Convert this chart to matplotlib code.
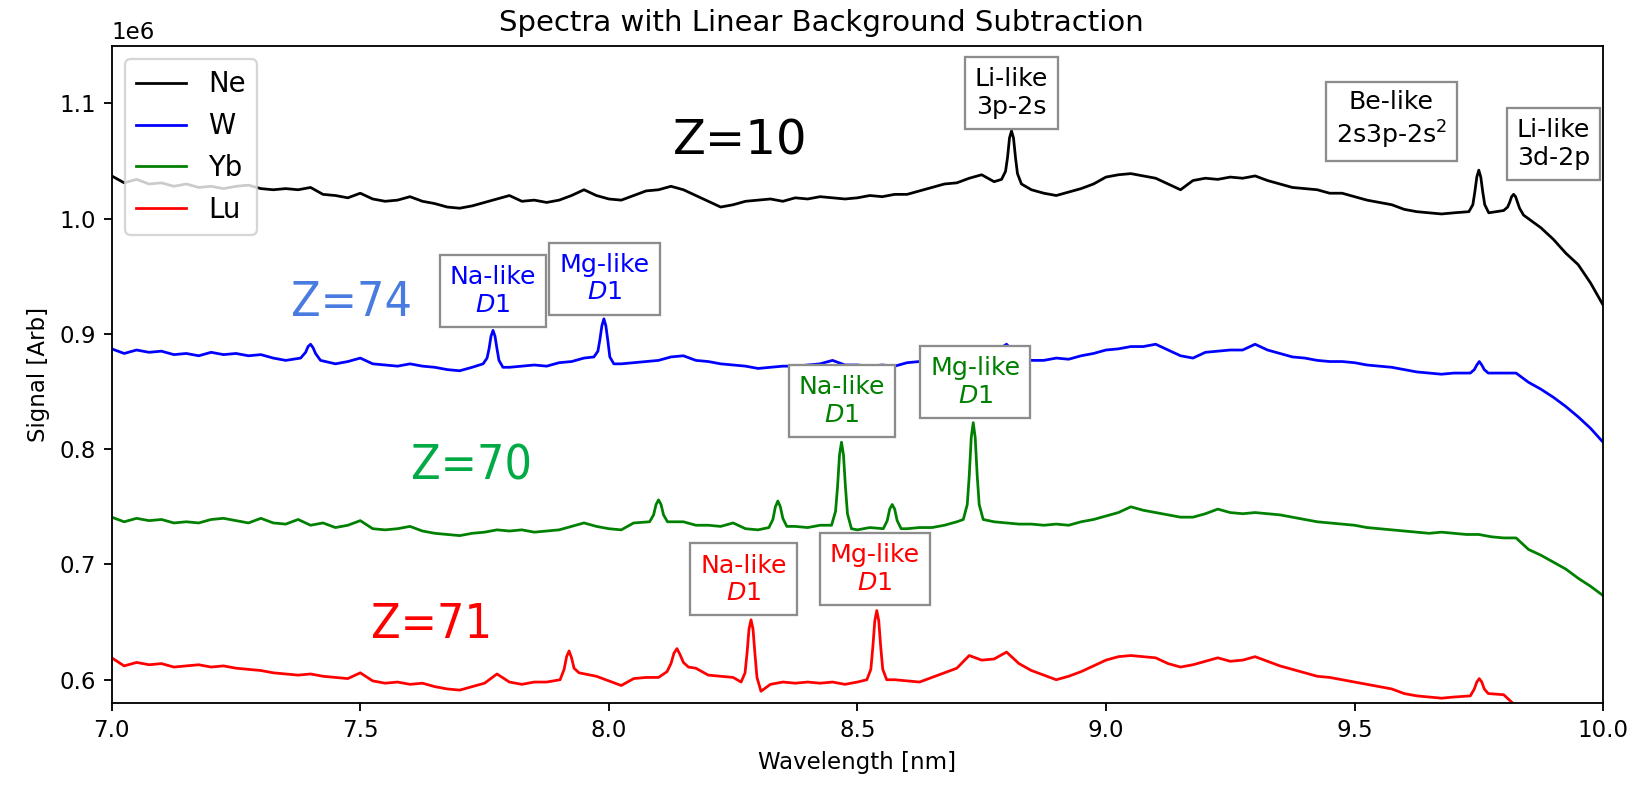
import numpy as np
from matplotlib import pyplot as plt

# wavelength grid of the background samples [nm]
wl = np.arange(121) * 0.025 + 7.0

# signal in units of 1e6
ne_base = [1.037, 1.031, 1.034, 1.030, 1.031, 1.028, 1.030, 1.027, 1.028, 1.026,
           1.028, 1.029, 1.026, 1.025, 1.026, 1.025, 1.027, 1.021, 1.020, 1.018,
           1.022, 1.017, 1.015, 1.016, 1.019, 1.015, 1.013, 1.010, 1.009, 1.011,
           1.014, 1.017, 1.020, 1.015, 1.016, 1.014, 1.016, 1.020, 1.025, 1.020,
           1.017, 1.016, 1.020, 1.024, 1.025, 1.028, 1.025, 1.020, 1.015, 1.010,
           1.012, 1.015, 1.016, 1.017, 1.015, 1.018, 1.017, 1.019, 1.018, 1.017,
           1.018, 1.020, 1.019, 1.021, 1.021, 1.024, 1.027, 1.030, 1.031, 1.035,
           1.038, 1.032, 1.034, 1.030, 1.025, 1.022, 1.020, 1.023, 1.026, 1.030,
           1.036, 1.038, 1.039, 1.037, 1.035, 1.030, 1.025, 1.033, 1.035, 1.034,
           1.036, 1.035, 1.037, 1.033, 1.030, 1.027, 1.026, 1.025, 1.022, 1.022,
           1.019, 1.016, 1.014, 1.012, 1.008, 1.006, 1.005, 1.004, 1.005, 1.006,
           1.007, 1.005, 1.008, 1.006, 1.003, 0.992, 0.982, 0.970, 0.960, 0.944,
           0.925]
ne_peak_x = [8.790, 8.798, 8.802, 8.806, 8.810, 8.814, 8.818, 8.822, 8.830,
             9.730, 9.738, 9.742, 9.746, 9.750, 9.754, 9.758, 9.762, 9.770,
             9.800, 9.808, 9.812, 9.816, 9.820, 9.824, 9.828, 9.832, 9.840]
ne_peak_y = [1.034, 1.041, 1.053, 1.070, 1.076, 1.070, 1.053, 1.039, 1.030,
             1.006, 1.012, 1.023, 1.036, 1.042, 1.036, 1.023, 1.012, 1.005,
             1.007, 1.010, 1.014, 1.019, 1.021, 1.019, 1.014, 1.009, 1.003]

w_base = [0.887, 0.883, 0.886, 0.884, 0.885, 0.882, 0.883, 0.881, 0.884, 0.882,
          0.883, 0.881, 0.882, 0.879, 0.877, 0.880, 0.885, 0.877, 0.874, 0.876,
          0.879, 0.874, 0.873, 0.872, 0.874, 0.872, 0.871, 0.869, 0.868, 0.871,
          0.874, 0.875, 0.871, 0.872, 0.873, 0.872, 0.875, 0.876, 0.879, 0.880,
          0.878, 0.874, 0.875, 0.876, 0.877, 0.880, 0.881, 0.877, 0.876, 0.874,
          0.873, 0.872, 0.870, 0.871, 0.872, 0.872, 0.873, 0.874, 0.877, 0.873,
          0.873, 0.872, 0.873, 0.872, 0.875, 0.876, 0.878, 0.879, 0.880, 0.882,
          0.883, 0.884, 0.891, 0.880, 0.877, 0.877, 0.879, 0.878, 0.881, 0.883,
          0.886, 0.887, 0.889, 0.889, 0.891, 0.886, 0.881, 0.879, 0.884, 0.885,
          0.886, 0.886, 0.891, 0.886, 0.883, 0.880, 0.879, 0.877, 0.876, 0.876,
          0.875, 0.873, 0.872, 0.871, 0.869, 0.867, 0.866, 0.865, 0.866, 0.866,
          0.870, 0.866, 0.866, 0.866, 0.858, 0.852, 0.845, 0.837, 0.828, 0.818,
          0.806]
w_peak_x = [7.380, 7.390, 7.395, 7.400, 7.405, 7.410, 7.420,
            7.747, 7.755, 7.759, 7.763, 7.767, 7.771, 7.775, 7.779, 7.787,
            7.970, 7.978, 7.982, 7.986, 7.990, 7.994, 7.998, 8.002, 8.010,
            9.733, 9.741, 9.746, 9.751, 9.756, 9.761, 9.769]
w_peak_y = [0.879, 0.884, 0.889, 0.891, 0.888, 0.883, 0.877,
            0.874, 0.879, 0.887, 0.898, 0.903, 0.898, 0.887, 0.877, 0.871,
            0.880, 0.885, 0.895, 0.907, 0.913, 0.907, 0.894, 0.880, 0.874,
            0.866, 0.869, 0.873, 0.876, 0.873, 0.869, 0.866]

yb_base = [0.741, 0.737, 0.740, 0.738, 0.739, 0.736, 0.737, 0.736, 0.739, 0.740,
           0.738, 0.736, 0.740, 0.736, 0.735, 0.739, 0.734, 0.736, 0.732, 0.734,
           0.738, 0.731, 0.730, 0.731, 0.733, 0.729, 0.727, 0.726, 0.725, 0.727,
           0.728, 0.730, 0.729, 0.730, 0.728, 0.729, 0.730, 0.733, 0.736, 0.733,
           0.731, 0.730, 0.736, 0.737, 0.738, 0.738, 0.737, 0.734, 0.734, 0.733,
           0.736, 0.731, 0.730, 0.733, 0.733, 0.733, 0.732, 0.734, 0.734, 0.733,
           0.730, 0.732, 0.731, 0.731, 0.731, 0.732, 0.732, 0.734, 0.737, 0.739,
           0.739, 0.737, 0.736, 0.735, 0.735, 0.734, 0.735, 0.734, 0.737, 0.739,
           0.742, 0.745, 0.750, 0.747, 0.745, 0.743, 0.741, 0.741, 0.744, 0.748,
           0.745, 0.744, 0.745, 0.744, 0.743, 0.741, 0.739, 0.737, 0.736, 0.735,
           0.734, 0.732, 0.731, 0.730, 0.729, 0.728, 0.727, 0.728, 0.727, 0.726,
           0.726, 0.724, 0.723, 0.723, 0.713, 0.708, 0.702, 0.696, 0.688, 0.681,
           0.673]
yb_peak_x = [8.082, 8.090, 8.095, 8.100, 8.105, 8.110, 8.118,
             8.322, 8.330, 8.335, 8.340, 8.345, 8.350, 8.358,
             8.448, 8.456, 8.460, 8.464, 8.468, 8.472, 8.476, 8.480, 8.488,
             8.552, 8.560, 8.565, 8.570, 8.575, 8.580, 8.588,
             8.713, 8.721, 8.725, 8.729, 8.733, 8.737, 8.741, 8.745, 8.753]
yb_peak_y = [0.737, 0.743, 0.752, 0.756, 0.752, 0.743, 0.737,
             0.732, 0.739, 0.750, 0.755, 0.750, 0.740, 0.733,
             0.734, 0.746, 0.767, 0.795, 0.806, 0.795, 0.767, 0.744, 0.731,
             0.731, 0.738, 0.748, 0.752, 0.748, 0.738, 0.731,
             0.739, 0.752, 0.777, 0.810, 0.823, 0.810, 0.777, 0.752, 0.739]

# Lu stops at 9.825 nm
lu_base = [0.619, 0.612, 0.615, 0.613, 0.614, 0.611, 0.612, 0.613, 0.611, 0.612,
           0.610, 0.609, 0.608, 0.606, 0.605, 0.604, 0.605, 0.603, 0.602, 0.601,
           0.606, 0.599, 0.597, 0.598, 0.596, 0.597, 0.594, 0.592, 0.591, 0.594,
           0.597, 0.605, 0.598, 0.596, 0.598, 0.598, 0.600, 0.604, 0.606, 0.603,
           0.599, 0.595, 0.601, 0.602, 0.602, 0.607, 0.612, 0.610, 0.604, 0.603,
           0.602, 0.599, 0.596, 0.596, 0.598, 0.597, 0.598, 0.597, 0.598, 0.596,
           0.598, 0.600, 0.601, 0.600, 0.599, 0.598, 0.602, 0.606, 0.610, 0.621,
           0.617, 0.618, 0.624, 0.614, 0.608, 0.604, 0.600, 0.603, 0.607, 0.612,
           0.617, 0.620, 0.621, 0.620, 0.619, 0.614, 0.611, 0.613, 0.616, 0.619,
           0.616, 0.617, 0.620, 0.616, 0.612, 0.609, 0.606, 0.603, 0.602, 0.600,
           0.598, 0.596, 0.594, 0.592, 0.588, 0.586, 0.585, 0.584, 0.585, 0.586,
           0.588, 0.588, 0.587, 0.577]
lu_peak_x = [7.902, 7.910, 7.915, 7.920, 7.925, 7.930, 7.940,
             8.117, 8.125, 8.131, 8.137, 8.143, 8.150, 8.160,
             8.266, 8.274, 8.278, 8.282, 8.286, 8.290, 8.294, 8.298, 8.306,
             8.519, 8.527, 8.531, 8.535, 8.539, 8.543, 8.547, 8.551, 8.559,
             9.733, 9.741, 9.746, 9.751, 9.756, 9.761, 9.769]
lu_peak_y = [0.600, 0.609, 0.620, 0.625, 0.619, 0.610, 0.606,
             0.607, 0.614, 0.623, 0.627, 0.622, 0.615, 0.611,
             0.598, 0.606, 0.623, 0.644, 0.652, 0.644, 0.622, 0.602, 0.590,
             0.600, 0.609, 0.628, 0.651, 0.660, 0.651, 0.628, 0.609, 0.600,
             0.586, 0.592, 0.598, 0.601, 0.598, 0.592, 0.588]


def merge(base, px, py):
    bx = wl[:len(base)]
    by = np.array(base)
    px = np.array(px)
    keep = np.min(np.abs(bx[:, None] - px[None, :]), axis=1) > 0.012
    x = np.concatenate([bx[keep], px])
    y = np.concatenate([by[keep], py])
    order = np.argsort(x)
    return x[order], y[order] * 1e6


fig = plt.figure(figsize=(1643 / 165, 787 / 165), dpi=165)
ax = fig.add_axes([0.068, 0.107, 0.9077, 0.835])

ax.plot(*merge(ne_base, ne_peak_x, ne_peak_y), color='black', lw=1.2, label='Ne')
ax.plot(*merge(w_base, w_peak_x, w_peak_y), color='blue', lw=1.2, label='W')
ax.plot(*merge(yb_base, yb_peak_x, yb_peak_y), color='green', lw=1.2, label='Yb')
ax.plot(*merge(lu_base, lu_peak_x, lu_peak_y), color='red', lw=1.2, label='Lu')

ax.set_xlim(7, 10)
ax.set_ylim(0.58e6, 1.15e6)
fig.suptitle('Spectra with Linear Background Subtraction', fontsize=12.7,
             x=0.5, y=0.971, va='center')
ax.set_xlabel('Wavelength [nm]')
ax.set_ylabel('Signal [Arb]')
ax.legend(loc='upper left', fontsize=12, handlelength=1.8)

ax.text(8.265, 1.067e6, 'Z=10', color='black', fontsize=21, ha='center', va='center')
zfont = dict(fontsize=21, fontstretch='condensed', ha='center', va='center')
ax.text(7.483, 0.927e6, 'Z=74', color='#4a7be0', **zfont)
ax.text(7.723, 0.785e6, 'Z=70', color='#00aa44', **zfont)
ax.text(7.643, 0.648e6, 'Z=71', color='red', **zfont)

box = dict(boxstyle='square,pad=0.4', facecolor='white', edgecolor='0.55')
labels = [
    (8.810, 1.109, 'Li-like\n3p-2s', 'black'),
    (9.574, 1.085, 'Be-like\n2s3p-2s$^2$', 'black'),
    (9.900, 1.065, 'Li-like\n3d-2p', 'black'),
    (7.767, 0.937, 'Na-like\n$D1$', 'blue'),
    (7.991, 0.948, 'Mg-like\n$D1$', 'blue'),
    (8.469, 0.842, 'Na-like\n$D1$', 'green'),
    (8.737, 0.858, 'Mg-like\n$D1$', 'green'),
    (8.271, 0.687, 'Na-like\n$D1$', 'red'),
    (8.535, 0.696, 'Mg-like\n$D1$', 'red'),
]
for x, y, s, c in labels:
    ax.text(x, y * 1e6, s, color=c, fontsize=11, ha='center', va='center',
            multialignment='center', bbox=box)

fig.savefig('out.png', dpi=165)
